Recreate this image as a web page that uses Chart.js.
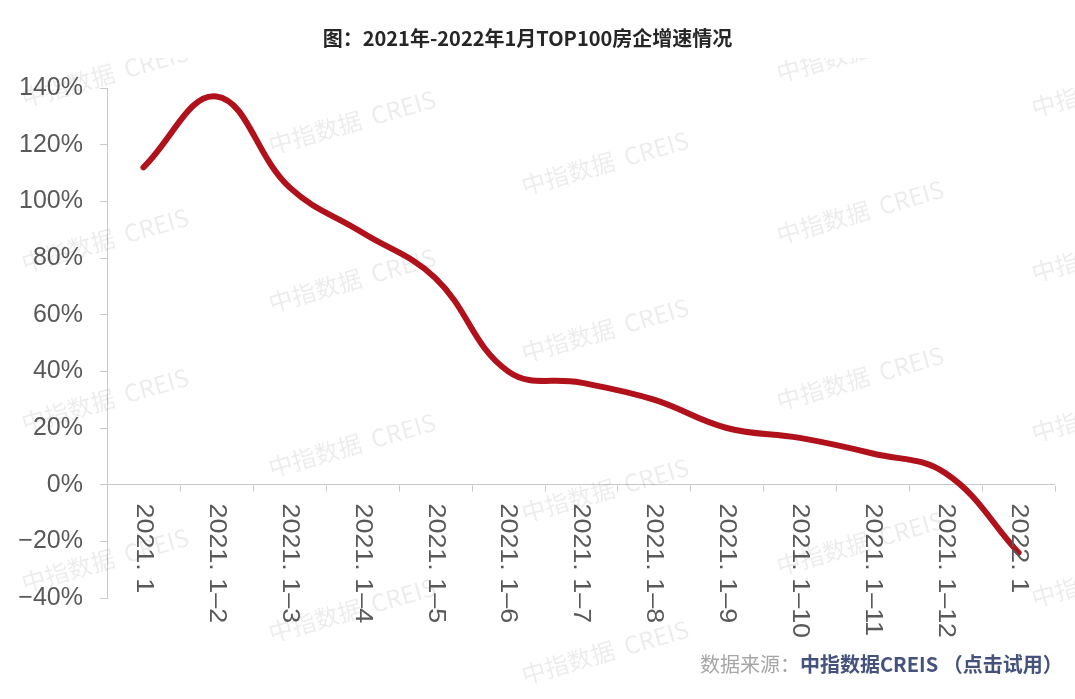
<!DOCTYPE html>
<html>
<head>
<meta charset="utf-8">
<script src="https://cdn.jsdelivr.net/npm/chart.js@4/dist/chart.umd.min.js"></script>
<style>
  html, body { margin: 0; padding: 0; background: #ffffff; overflow: hidden; }
  #wrap { width: 1075px; height: 699px; position: relative; }
</style>
</head>
<body>
<div id="wrap"><canvas id="c"></canvas></div>
<script>
// ---- data ----
const titleText = '图：2021年-2022年1月TOP100房企增速情况';
const categories = ['2021. 1', '2021. 1–2', '2021. 1–3', '2021. 1–4', '2021. 1–5', '2021. 1–6',
  '2021. 1–7', '2021. 1–8', '2021. 1–9', '2021. 1–10', '2021. 1–11', '2021. 1–12', '2022. 1'];
const growthValues = [112, 137, 105, 89, 73, 40, 36, 30, 20, 16.5, 11, 4, -24];
const yTickMin = -40;
const yTickMax = 140;
const yTickStep = 20;
const sourceLabel = '数据来源：';
const sourceName = '中指数据CREIS （点击试用）';
const watermarkText = '中指数据  CREIS';

// decorative watermark anchor points (page pixels)
const watermarkSpots = [
  [105, 75], [105, 240], [105, 400], [105, 560],
  [352, 122], [352, 280], [352, 445], [352, 610],
  [605, 163], [605, 330], [605, 490], [605, 652],
  [860, 50], [860, 212], [860, 378], [860, 543],
  [1115, 85], [1115, 250], [1115, 410], [1115, 575]
];

const latin = '"Liberation Sans", Arial, "DejaVu Sans", sans-serif';
const cjk = '"Noto Sans CJK SC", "Liberation Sans", sans-serif';

const watermarkPlugin = {
  id: 'watermark',
  beforeDatasetsDraw(chart) {
    const ctx = chart.ctx;
    ctx.save();
    ctx.beginPath();
    ctx.rect(0, 58, chart.width, chart.height - 58);
    ctx.clip();
    ctx.font = '24px ' + cjk;
    ctx.fillStyle = 'rgba(0,0,0,0.075)';
    ctx.textAlign = 'center';
    ctx.textBaseline = 'middle';
    watermarkSpots.forEach(([wx, wy]) => {
      ctx.save();
      ctx.translate(wx, wy);
      ctx.rotate(-16 * Math.PI / 180);
      ctx.fillText(watermarkText, 0, 0);
      ctx.restore();
    });
    ctx.restore();
  }
};

const extrasPlugin = {
  id: 'extras',
  afterDraw(chart) {
    const ctx = chart.ctx;
    const xs = chart.scales.x, ys = chart.scales.y;
    const y0 = Math.round(ys.getPixelForValue(0)) + 0.5;
    ctx.save();
    // category boundary tick marks under zero line
    ctx.strokeStyle = '#c8c8c8';
    ctx.lineWidth = 1;
    for (let i = 0; i <= categories.length; i++) {
      const px = Math.round(xs.getPixelForValue(i - 0.5)) + 0.5;
      ctx.beginPath();
      ctx.moveTo(px, y0);
      ctx.lineTo(px, y0 + 6);
      ctx.stroke();
    }
    // rotated category labels (reading top to bottom)
    ctx.font = '24px ' + latin;
    ctx.fillStyle = '#595959';
    ctx.textAlign = 'left';
    ctx.textBaseline = 'middle';
    categories.forEach((lab, i) => {
      const px = xs.getPixelForValue(i);
      ctx.save();
      ctx.translate(px, y0 + 18);
      ctx.rotate(Math.PI / 2);
      ctx.scale(1.12, 1);
      ctx.fillText(lab, 0, 0);
      ctx.restore();
    });
    // source line
    ctx.textBaseline = 'middle';
    ctx.textAlign = 'left';
    ctx.font = '20px ' + cjk;
    ctx.fillStyle = '#a6a6a6';
    ctx.fillText(sourceLabel, 700, 664);
    const w = ctx.measureText(sourceLabel).width;
    ctx.font = 'bold 20px ' + cjk;
    ctx.fillStyle = '#45527c';
    ctx.fillText(sourceName, 700 + w, 664);
    ctx.restore();
  }
};

new Chart(document.getElementById('c'), {
  type: 'line',
  data: {
    labels: categories,
    datasets: [{
      data: growthValues,
      borderColor: '#b0111a',
      borderWidth: 6,
      borderCapStyle: 'round',
      borderJoinStyle: 'round',
      tension: 0.4,
      pointRadius: 0,
      pointHoverRadius: 0,
      fill: false
    }]
  },
  options: {
    responsive: true,
    maintainAspectRatio: false,
    animation: false,
    events: [],
    layout: { padding: { top: 0, left: 0, right: 20, bottom: 101 } },
    plugins: {
      legend: { display: false },
      tooltip: { enabled: false },
      title: {
        display: true,
        text: titleText,
        color: '#262626',
        font: { family: cjk, size: 20, weight: 'bold', lineHeight: 1.2 },
        padding: { top: 26, bottom: 38 }
      }
    },
    scales: {
      x: {
        type: 'category',
        display: false,
        offset: true
      },
      y: {
        min: yTickMin,
        max: yTickMax,
        afterFit(s) { s.width = 107; },
        ticks: {
          stepSize: yTickStep,
          padding: 17,
          color: '#595959',
          font: { family: latin, size: 25 },
          callback: v => (v < 0 ? '−' + Math.abs(v) : v) + '%'
        },
        border: { display: true, color: '#c8c8c8', width: 1 },
        grid: {
          drawOnChartArea: true,
          tickLength: 7,
          tickColor: '#c8c8c8',
          color: c => (c.tick && c.tick.value === 0) ? '#c8c8c8' : 'rgba(0,0,0,0)',
          lineWidth: 1
        }
      }
    }
  },
  plugins: [watermarkPlugin, extrasPlugin]
});
</script>
</body>
</html>
